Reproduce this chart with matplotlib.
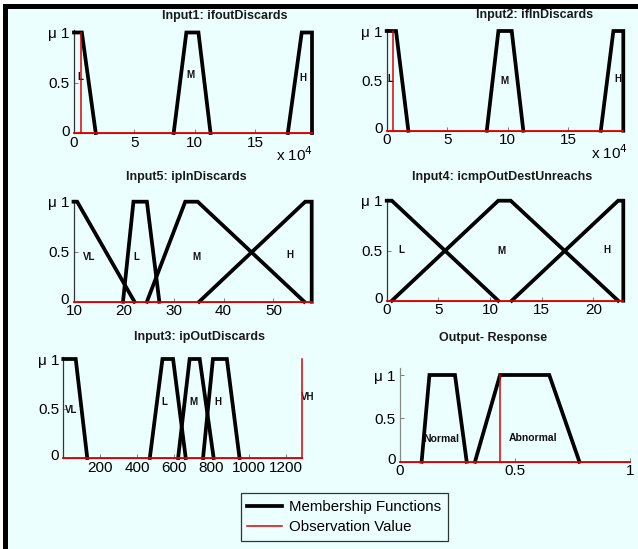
import matplotlib
matplotlib.use('Agg')
import matplotlib.pyplot as plt
import matplotlib.transforms as mtransforms
from matplotlib.lines import Line2D
from matplotlib.patches import Rectangle

W, H = 638, 549
BG = '#EBFFFF'
FONT = 'Liberation Sans'
plt.rcParams['font.family'] = [FONT, 'DejaVu Sans']

# ---------------- data ----------------
in1_title = 'Input1: ifoutDiscards'
in1_range = [0, 19.7e4]
in1_names = ['L', 'M', 'H']
in1_params = [[0, 0, 0.65e4, 1.8e4], [8.25e4, 9.3e4, 10.3e4, 11.3e4], [17.7e4, 18.85e4, 19.7e4, 19.7e4]]
in1_obs = 0.58e4
in1_ticks = [0, 5e4, 10e4, 15e4]
in1_ticklabels = ['0', '5', '10', '15']

in2_title = 'Input2: ifInDiscards'
in2_range = [0, 19.55e4]
in2_names = ['L', 'M', 'H']
in2_params = [[0, 0, 0.77e4, 1.79e4], [8.27e4, 9.23e4, 10.33e4, 11.29e4], [17.69e4, 18.73e4, 19.55e4, 19.55e4]]
in2_obs = 0.55e4
in2_ticks = [0, 5e4, 10e4, 15e4]
in2_ticklabels = ['0', '5', '10', '15']

in5_title = 'Input5: ipInDiscards'
in5_range = [9.86, 57.7]
in5_names = ['VL', 'L', 'M', 'H']
in5_params = [[9.86, 9.86, 10.6, 22.1], [19.8, 21.9, 24.6, 27.1], [24.6, 32.3, 34.8, 56.2], [35.1, 56.4, 57.7, 57.7]]
in5_obs = None
in5_ticks = [10, 20, 30, 40, 50]
in5_ticklabels = ['10', '20', '30', '40', '50']

in4_title = 'Input4: icmpOutDestUnreachs'
in4_range = [0, 22.9]
in4_names = ['L', 'M', 'H']
in4_params = [[0, 0, 0.5, 10.8], [0.5, 10.8, 12.0, 22.4], [12.1, 22.4, 22.9, 22.9]]
in4_obs = None
in4_ticks = [0, 5, 10, 15, 20]
in4_ticklabels = ['0', '5', '10', '15', '20']

in3_title = 'Input3: ipOutDiscards'
in3_range = [3.3, 1284]
in3_names = ['VL', 'L', 'M', 'H', 'VH']
in3_params = [[3.3, 3.3, 70, 132], [468, 536, 593, 661], [620, 682, 736, 811], [754, 807, 882, 950], None]
in3_obs = 1284
in3_ticks = [200, 400, 600, 800, 1000, 1200]
in3_ticklabels = ['200', '400', '600', '800', '1000', '1200']

out_title = 'Output- Response'
out_range = [0, 1]
out_names = ['Normal', 'Abnormal']
out_params = [[0.094, 0.128, 0.239, 0.29], [0.326, 0.435, 0.649, 0.78]]
out_obs = 0.435
out_ticks = [0, 0.5, 1]
out_ticklabels = ['0', '0.5', '1']

legend_labels = ['Membership Functions', 'Observation Value']

# ---------------- figure ----------------
fig = plt.figure(figsize=(W / 100, H / 100), dpi=100)
fig.patch.set_facecolor('white')


def px_rect(x0, y0, x1, y1, color):
    fig.add_artist(Rectangle((x0 / W, 1 - y1 / H), (x1 - x0) / W, (y1 - y0) / H,
                             transform=fig.transFigure, facecolor=color,
                             edgecolor='none', zorder=-10))


px_rect(3, 4, W, H, 'black')
px_rect(8, 9, W, H, BG)


def panel(geom, title, title_pos, xr, names, params, obs, ticks, ticklabels,
          label_pos, ytop=1.02, label_fs=7, spine_color='#333333'):
    l, y1, r, y0 = geom
    hpx = (y0 - y1) * ytop
    ax = fig.add_axes([l / W, 1 - y0 / H, (r - l) / W, hpx / H])
    ax.set_facecolor('none')
    ax.set_xlim(xr)
    ax.set_ylim(0, ytop)
    for s in ['top', 'right']:
        ax.spines[s].set_visible(False)
    ax.spines['left'].set_color(spine_color)
    ax.spines['left'].set_linewidth(0.9)
    ax.spines['bottom'].set_color('#333333')
    ax.set_xticks(ticks)
    ax.set_xticklabels(ticklabels)
    ax.set_yticks([0, 0.5, 1])
    ax.set_yticklabels(['0', '0.5', '\u03bc 1'])
    ax.tick_params(axis='both', direction='in', length=3, width=0.6,
                   color='#666666', labelsize=11, labelcolor='black')
    ax.tick_params(axis='x', pad=2)
    ax.tick_params(axis='y', pad=3)
    # raise the y '0' label slightly, as in the reference
    zlab = ax.get_yticklabels()[0]
    zlab.set_transform(zlab.get_transform() +
                       mtransforms.ScaledTranslation(0, 3 / 100, fig.dpi_scale_trans))
    for p in params:
        if p is None:
            continue
        a, b, c, d = p
        if a == b:
            xs, ys = [b, c, d], [1, 1, 0]
        else:
            xs, ys = [a, b, c, d], [0, 1, 1, 0]
        ax.plot(xs, ys, color='black', lw=2.7, solid_joinstyle='miter',
                clip_on=False, zorder=3)
    ax.plot(xr, [0, 0], color='#E00000', lw=1.3, clip_on=False, zorder=5)
    if obs is not None:
        ax.plot([obs, obs], [0, 1], color='#E00000', lw=1.1, clip_on=False, zorder=5)
    for name, (lx, ly) in zip(names, label_pos):
        ax.text(lx, ly, name, fontsize=label_fs, fontweight='bold',
                ha='center', va='center', color='#111111', clip_on=False)
    fig.text(title_pos[0] / W, 1 - title_pos[1] / H, title, fontsize=9,
             fontweight='bold', color='#1a1a1a', ha='center', va='center')
    return ax


panel((74, 32.5, 312, 133), in1_title, (225, 16), in1_range, in1_names, in1_params,
      in1_obs, in1_ticks, in1_ticklabels,
      [(0.55e4, 0.56), (9.6e4, 0.58), (18.95e4, 0.55)])
fig.text(295 / W, 1 - 155 / H, r'x 10$^4$', fontsize=11, ha='center', va='center')

panel((386.7, 31, 623.3, 130.7), in2_title, (535, 15), in2_range, in2_names, in2_params,
      in2_obs, in2_ticks, in2_ticklabels,
      [(0.27e4, 0.52), (9.7e4, 0.50), (19.09e4, 0.52)])
fig.text(610 / W, 1 - 153 / H, r'x 10$^4$', fontsize=11, ha='center', va='center')

panel((73.5, 201.7, 311.7, 301.7), in5_title, (186.7, 176.7), in5_range, in5_names,
      in5_params, in5_obs, in5_ticks, in5_ticklabels,
      [(12.9, 0.45), (22.4, 0.45), (34.6, 0.45), (53.4, 0.47)])

panel((386.7, 200.7, 623.3, 300.7), in4_title, (501.7, 177.3), in4_range, in4_names,
      in4_params, in4_obs, in4_ticks, in4_ticklabels,
      [(1.45, 0.51), (11.1, 0.50), (21.3, 0.51)])

panel((63.3, 359, 301.7, 458), in3_title, (199.3, 336.7), in3_range, in3_names,
      in3_params, in3_obs, in3_ticks, in3_ticklabels,
      [(48, 0.485), (545, 0.57), (704, 0.57), (834, 0.57), (1316, 0.62)])

panel((400, 375, 630, 461.7), out_title, (493.3, 338.3), out_range, out_names,
      out_params, out_obs, out_ticks, out_ticklabels,
      [(0.181, 0.26), (0.58, 0.27)], ytop=1.08, label_fs=7.5, spine_color='#888888')

handles = [Line2D([], [], color='black', lw=2.7),
           Line2D([], [], color='#E00000', lw=1.1)]
leg = fig.legend(handles, legend_labels, loc='upper left',
                 bbox_to_anchor=(240.7 / W, 1 - 493.3 / H),
                 fontsize=10.8, frameon=True, fancybox=False, framealpha=1,
                 facecolor=BG, edgecolor='#333333', handlelength=2.3,
                 handletextpad=0.5, borderpad=0.45, labelspacing=0.4,
                 borderaxespad=0)
leg.get_frame().set_linewidth(0.9)

fig.savefig('out.png', dpi=100, facecolor=fig.get_facecolor())
